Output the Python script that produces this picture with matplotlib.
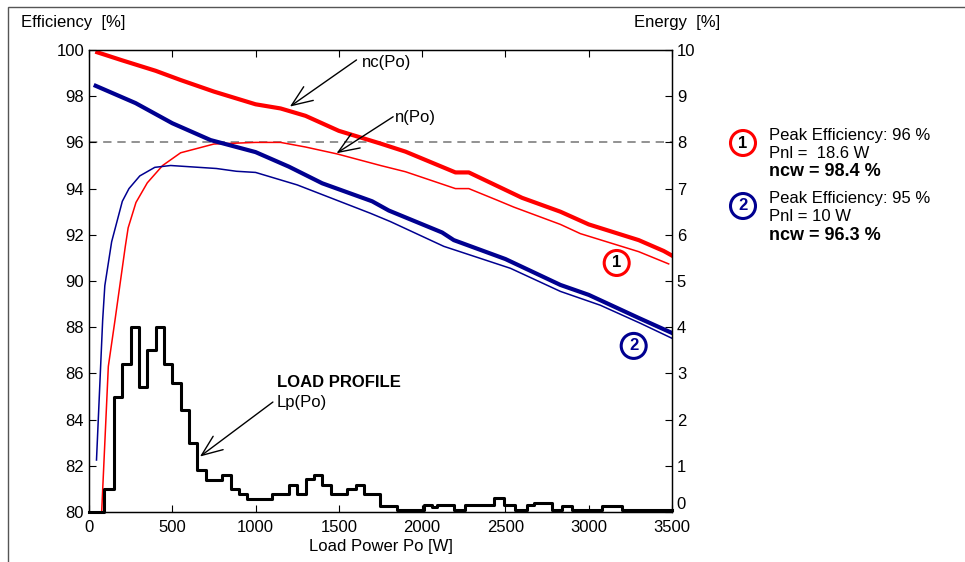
import matplotlib
matplotlib.use('Agg')
import matplotlib.pyplot as plt
from matplotlib.patches import Rectangle

plt.rcParams['font.family'] = ['Liberation Sans', 'DejaVu Sans']

# ---------------- data ----------------
po_nc1 = [50, 200, 400, 550, 750, 1000, 1150, 1300, 1500, 1750, 1900, 2200, 2280,
          2600, 2830, 3000, 3300, 3450, 3500]
nc1 = [99.9, 99.55, 99.1, 98.7, 98.2, 97.65, 97.47, 97.15, 96.5, 95.95, 95.6, 94.7,
       94.7, 93.6, 93.0, 92.45, 91.77, 91.3, 91.1]

po_n1 = [76, 116, 156, 218, 235, 282, 350, 442, 550, 750, 1000, 1150, 1300, 1490,
         1750, 1900, 2200, 2280, 2450, 2550, 2830, 2950, 3300, 3480]
n1 = [80.0, 86.3, 88.3, 91.5, 92.3, 93.4, 94.25, 95.0, 95.55, 95.93, 96.0, 96.0,
      95.8, 95.5, 95.0, 94.73, 94.0, 94.0, 93.5, 93.2, 92.45, 92.05, 91.27, 90.74]

po_nc2 = [40, 280, 500, 730, 1000, 1200, 1400, 1700, 1800, 2120, 2190, 2500, 2830,
          3000, 3300, 3500]
nc2 = [98.45, 97.7, 96.83, 96.1, 95.58, 94.95, 94.23, 93.45, 93.05, 92.1, 91.77,
       90.95, 89.83, 89.4, 88.4, 87.75]

po_n2 = [45, 82, 95, 136, 200, 240, 305, 395, 490, 765, 885, 1000, 1250, 1690, 1810,
         2130, 2530, 2830, 3070, 3310, 3500]
n2 = [82.25, 88.3, 89.8, 91.7, 93.45, 94.0, 94.55, 94.92, 95.0, 94.87, 94.75, 94.7,
      94.16, 92.93, 92.57, 91.5, 90.55, 89.55, 88.95, 88.17, 87.52]

lp_edges = [0, 90, 150, 200, 250, 300, 350, 400, 450, 500, 550, 600, 650, 700, 800,
            850, 900, 950, 1100, 1200, 1250, 1300, 1350, 1400, 1450, 1550, 1600, 1650,
            1750, 1850, 2010, 2060, 2090, 2190, 2260, 2430, 2490, 2560, 2630, 2670,
            2780, 2840, 2900, 3080, 3200, 3500]
lp_vals = [0, 0.5, 2.5, 3.2, 4.0, 2.7, 3.5, 4.0, 3.2, 2.8, 2.2, 1.5, 0.9, 0.7, 0.8,
           0.5, 0.4, 0.28, 0.4, 0.58, 0.4, 0.71, 0.8, 0.58, 0.4, 0.5, 0.58, 0.4,
           0.12, 0.04, 0.15, 0.1, 0.15, 0.04, 0.15, 0.3, 0.15, 0.04, 0.15, 0.2,
           0.04, 0.12, 0.04, 0.12, 0.04]

x_ticks = [0, 500, 1000, 1500, 2000, 2500, 3000, 3500]
eff_ticks = [80, 82, 84, 86, 88, 90, 92, 94, 96, 98, 100]
en_ticks = [0, 1, 2, 3, 4, 5, 6, 7, 8, 9, 10]

RED = '#ff0000'
NAVY = '#000090'
FS = 12

# ---------------- figure ----------------
fig = plt.figure(figsize=(9.65, 5.62), dpi=100)
ax = fig.add_axes([89 / 965, 1 - 512 / 562, (672 - 89) / 965, (512 - 50) / 562])
ax2 = ax.twinx()

ax.axhline(96, color='#7f7f7f', ls=(0, (5, 3.5)), lw=1.2, zorder=1)
ax.plot(po_n1, n1, color=RED, lw=1.1)
ax.plot(po_n2, n2, color=NAVY, lw=1.1)
ax.plot(po_nc1, nc1, color=RED, lw=3.0)
ax.plot(po_nc2, nc2, color=NAVY, lw=3.0)

ax.set_xlim(0, 3500)
ax.set_ylim(80, 100)
ax.set_xticks(x_ticks)
ax.set_yticks(eff_ticks)
ax.tick_params(direction='in', length=5, top=True, right=False, labelsize=FS, width=0.8)
ax.tick_params(axis='x', pad=6)
ax.set_xlabel('Load Power Po [W]', fontsize=FS, labelpad=3)

lp_y = lp_vals + [lp_vals[-1]]
ax2.step(lp_edges, lp_y, where='post', color='black', lw=2.2, clip_on=False)
ax2.set_ylim(0, 10)
ax2.set_yticks(en_ticks)
ax2.tick_params(direction='in', length=5, labelsize=FS, width=0.8)
ax2.yaxis.get_major_ticks()[0].label2.set_verticalalignment('bottom')

for a in (ax, ax2):
    for s in a.spines.values():
        s.set_linewidth(0.9)

# annotations
arrow_kw = dict(arrowstyle='->,head_length=0.75,head_width=0.3', lw=1.0, color='black',
                shrinkA=0, shrinkB=0, mutation_scale=20)
ax.annotate('', xy=(1206, 97.55), xytext=(1606, 99.57), arrowprops=arrow_kw)
ax.text(1640, 99.48, 'nc(Po)', fontsize=FS, ha='left', va='center')
ax.annotate('', xy=(1486, 95.53), xytext=(1826, 97.11), arrowprops=arrow_kw)
ax.text(1836, 97.08, 'n(Po)', fontsize=FS, ha='left', va='center')
ax2.annotate('', xy=(666, 1.2), xytext=(1104, 2.38), arrowprops=arrow_kw)
ax2.text(1128, 2.81, 'LOAD PROFILE', fontsize=FS, fontweight='bold', ha='left', va='center')
ax2.text(1128, 2.38, 'Lp(Po)', fontsize=FS, ha='left', va='center')

circ = 'circle,pad=0.3'
ax.text(3168, 90.78, '1', fontsize=FS, fontweight='bold', ha='center', va='center',
        bbox=dict(boxstyle=circ, fc='white', ec=RED, lw=2.2))
ax.text(3270, 87.19, '2', fontsize=FS, fontweight='bold', ha='center', va='center',
        color=NAVY, bbox=dict(boxstyle=circ, fc='white', ec=NAVY, lw=2.2))

# outer labels
fig.text(21 / 965, 1 - 22 / 562, 'Efficiency  [%]', fontsize=FS, ha='left', va='center')
fig.text(720 / 965, 1 - 22 / 562, 'Energy  [%]', fontsize=FS, ha='right', va='center')

# side legend
fig.text(743 / 965, 1 - 143 / 562, '1', fontsize=FS, fontweight='bold', ha='center',
         va='center', bbox=dict(boxstyle=circ, fc='white', ec=RED, lw=2.2))
fig.text(743 / 965, 1 - 206 / 562, '2', fontsize=FS, fontweight='bold', ha='center',
         va='center', color=NAVY, bbox=dict(boxstyle=circ, fc='white', ec=NAVY, lw=2.2))
fig.text(769 / 965, 1 - 135 / 562, 'Peak Efficiency: 96 %', fontsize=FS, va='center')
fig.text(769 / 965, 1 - 153 / 562, 'Pnl =  18.6 W', fontsize=FS, va='center')
fig.text(769 / 965, 1 - 171.5 / 562, 'ncw = 98.4 %', fontsize=FS + 1, fontweight='bold', va='center')
fig.text(769 / 965, 1 - 199 / 562, 'Peak Efficiency: 95 %', fontsize=FS, va='center')
fig.text(769 / 965, 1 - 217 / 562, 'Pnl = 10 W', fontsize=FS, va='center')
fig.text(769 / 965, 1 - 236 / 562, 'ncw = 96.3 %', fontsize=FS + 1, fontweight='bold', va='center')

# outer frame
fig.add_artist(Rectangle((8 / 965, -0.05), 1.0, 1.05 - 7 / 562, transform=fig.transFigure,
                         fill=False, ec='#555555', lw=1.0))

fig.savefig('out.png', dpi=100)
